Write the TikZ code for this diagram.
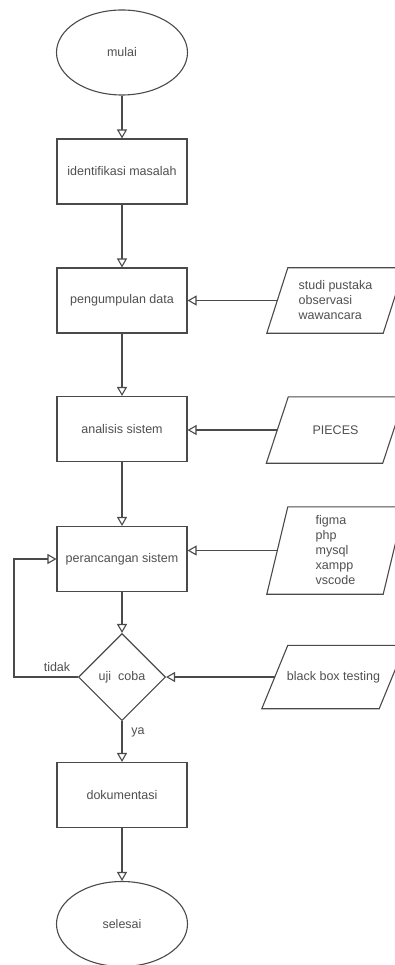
\documentclass[tikz,border=0pt]{standalone}
\usepackage{fontspec}
\setmainfont{Liberation Sans}
\usetikzlibrary{arrows.meta,shapes.geometric,calc}
\definecolor{linec}{HTML}{4A4A4A}
\definecolor{textc}{HTML}{505050}
\begin{document}
\begin{tikzpicture}[x=1pt,y=-1pt,
  every node/.style={text=textc,font=\fontsize{12.5}{15}\selectfont},
  term/.style={ellipse,draw=linec,line width=1.1pt,minimum width=131pt,minimum height=85pt,inner sep=0pt},
  procbox/.style={rectangle,draw=linec,line width=1.1pt,minimum width=130pt,minimum height=65pt,inner sep=0pt},
  decis/.style={diamond,draw=linec,line width=1.1pt,minimum width=87pt,minimum height=87pt,inner sep=0pt,aspect=1},
  ioarea/.style={rectangle,minimum width=116pt,inner sep=0pt,align=left},
  flow/.style={draw=linec,line width=1.1pt,-{Triangle[open,width=10pt,length=9pt]}},
  lbl/.style={inner sep=0pt}
]
\useasboundingbox (0,0) rectangle (395,965);
\clip (0,0) rectangle (395,965);
\fill[white] (0,0) rectangle (395,965);

% main column
\node[term] (mulai) at (122,52.5) {mulai};
\node[procbox] (ident) at (122,171.5) {identifikasi masalah};
\node[procbox] (kumpul) at (122,300.5) {pengumpulan data};
\node[procbox] (anal) at (122,429) {analisis sistem};
\node[procbox] (rancang) at (122,559) {perancangan sistem};
\node[decis] (uji) at (122,677) {uji\ \ coba};
\node[procbox] (dok) at (122,795) {dokumentasi};
\node[term] (selesai) at (122,924) {selesai};

% inputs (parallelograms)
\node[ioarea,minimum height=65pt] (studi) at (335.5,300.5) {studi pustaka\\observasi\\wawancara};
\node[ioarea,minimum height=66pt,align=center] (pieces) at (335.5,430) {PIECES};
\node[ioarea,minimum height=87pt] (tools) at (335.5,550.5) {figma\\php\\mysql\\xampp\\vscode};
\node[ioarea,minimum width=117pt,minimum height=63pt,align=center] (bbt) at (333.5,677) {black box testing};

\foreach \n/\s in {studi/21,pieces/22,tools/21,bbt/26}{
  \draw[draw=linec,line width=1.1pt]
    ($(\n.south west)+(-\s/2,0)$) -- ($(\n.north west)+(\s/2,0)$) --
    ($(\n.north east)+(\s/2,0)$) -- ($(\n.south east)+(-\s/2,0)$) -- cycle;
}

% main flow
\draw[flow] (mulai) -- (ident);
\draw[flow] (ident) -- (kumpul);
\draw[flow] (kumpul) -- (anal);
\draw[flow] (anal) -- (rancang);
\draw[flow] (rancang) -- (uji);
\draw[flow] (uji) -- (dok);
\draw[flow] (dok) -- (selesai);

% inputs
\draw[flow] (studi.west) -- (studi.west -| kumpul.east);
\draw[flow] (pieces.west) -- (pieces.west -| anal.east);
\draw[flow] (tools.west) -- (tools.west -| rancang.east);
\draw[flow] (bbt.west) -- (uji.east);

% feedback
\coordinate (fb) at (14,677);
\draw[flow] (uji.west) -- (fb) |- (rancang.west);

\node[lbl] (tidak) at (57,667) {tidak};
\node[lbl] (ya) at (138,732) {ya};
\end{tikzpicture}
\end{document}
